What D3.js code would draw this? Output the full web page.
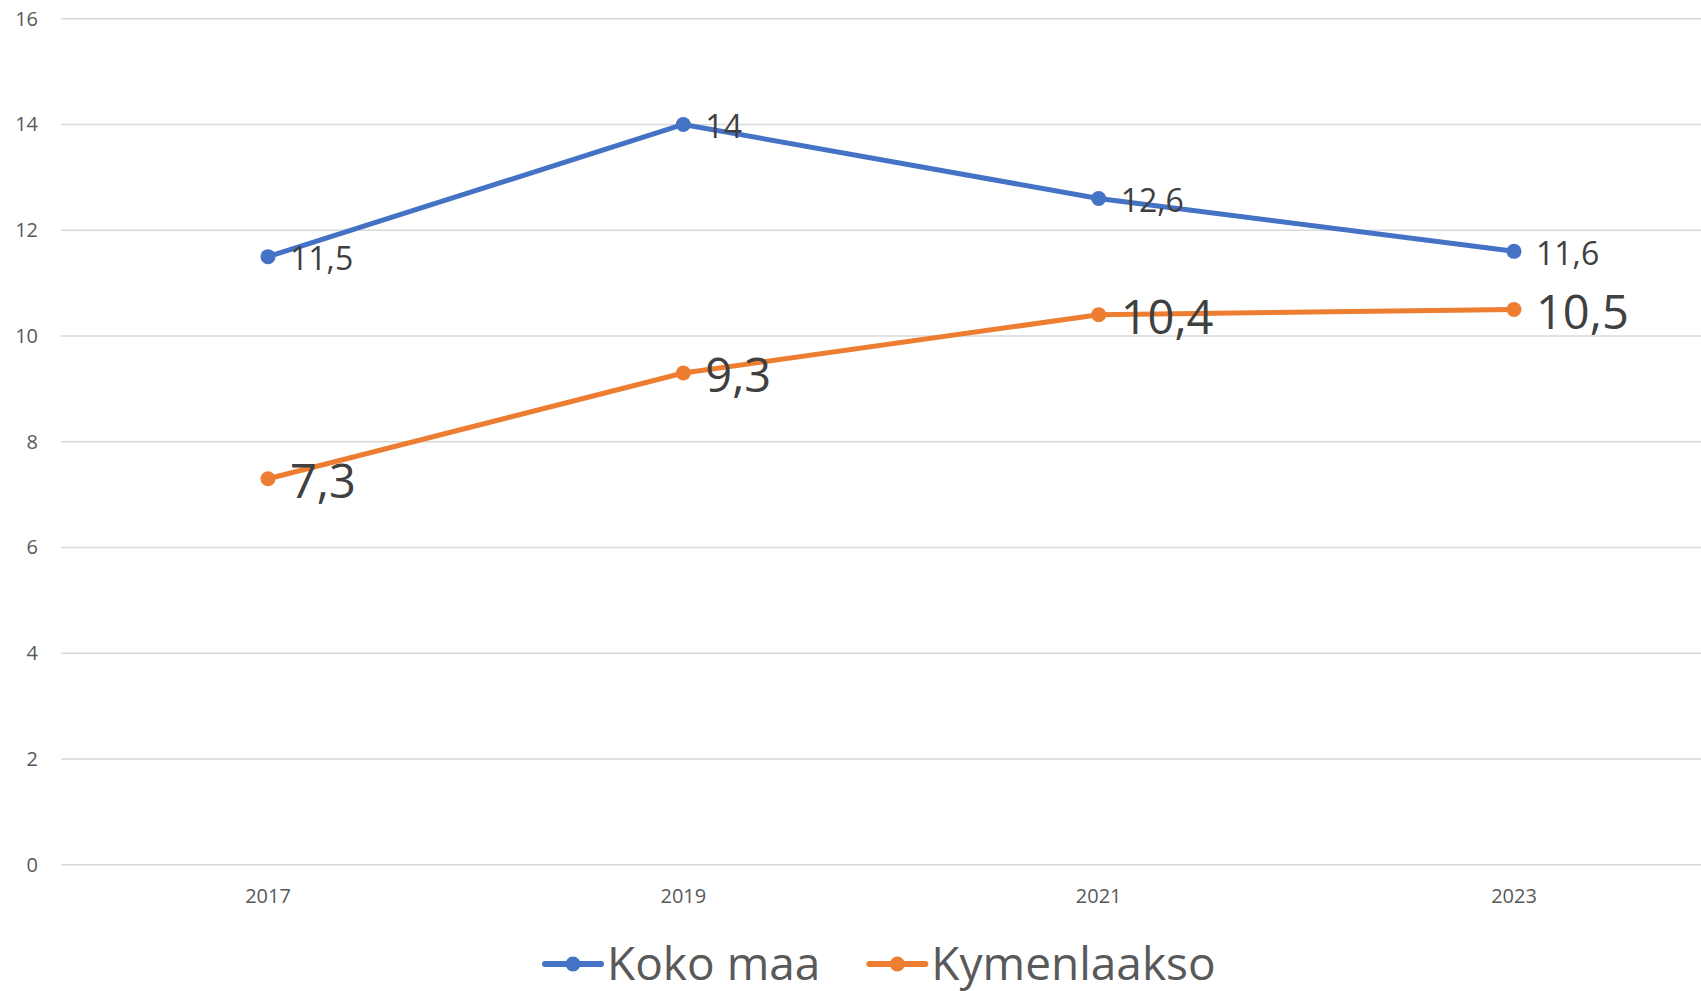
<!DOCTYPE html>
<html>
<head>
<meta charset="utf-8">
<script src="https://cdn.jsdelivr.net/npm/d3@7"></script>
<style>
  body { margin: 0; background: #fff; }
  text { font-family: "Open Sans", sans-serif; }
</style>
</head>
<body>
<div id="chart"></div>
<script>
// data
var years = ["2017", "2019", "2021", "2023"];
var kokoMaa = [11.5, 14, 12.6, 11.6];
var kymenlaakso = [7.3, 9.3, 10.4, 10.5];
var yTicks = [0, 2, 4, 6, 8, 10, 12, 14, 16];
var seriesNames = ["Koko maa", "Kymenlaakso"];

var width = 1701, height = 991;
var margin = {top: 18.7, right: 0, bottom: 126.3, left: 61};

var svg = d3.select("#chart")
  .append("svg")
  .attr("width", width)
  .attr("height", height);

// the plot runs a little past the right edge of the picture
var x = d3.scalePoint()
  .domain(years)
  .range([268, 1514]);

var y = d3.scaleLinear()
  .domain([0, 16])
  .range([height - margin.bottom, margin.top]);

// gridlines
svg.append("g")
  .selectAll("line")
  .data(yTicks)
  .enter()
  .append("line")
  .attr("x1", margin.left)
  .attr("x2", width)
  .attr("y1", function(d) { return y(d); })
  .attr("y2", function(d) { return y(d); })
  .attr("stroke", "#d9d9d9")
  .attr("stroke-width", 1.5);

// y tick labels
svg.append("g")
  .selectAll("text")
  .data(yTicks)
  .enter()
  .append("text")
  .attr("x", 38)
  .attr("y", function(d) { return y(d); })
  .attr("dy", "0.35em")
  .attr("text-anchor", "end")
  .style("font-size", "20px")
  .style("fill", "#595959")
  .text(function(d) { return d; });

// x tick labels
svg.append("g")
  .selectAll("text")
  .data(years)
  .enter()
  .append("text")
  .attr("x", function(d) { return x(d); })
  .attr("y", 903)
  .attr("text-anchor", "middle")
  .style("font-size", "20px")
  .style("fill", "#595959")
  .text(function(d) { return d; });

var series = [
  {name: seriesNames[0], values: kokoMaa, color: "#4472C4", labelSize: 32, labelDy: 13.5},
  {name: seriesNames[1], values: kymenlaakso, color: "#ED7D31", labelSize: 47, labelDy: 19}
];

var line = d3.line()
  .x(function(d, i) { return x(years[i]); })
  .y(function(d) { return y(d); });

var fmt = function(v) { return String(v).replace(".", ","); };

series.forEach(function(s) {
  var g = svg.append("g");

  g.append("path")
    .datum(s.values)
    .attr("d", line)
    .attr("fill", "none")
    .attr("stroke", s.color)
    .attr("stroke-width", 5)
    .attr("stroke-linejoin", "round");

  g.selectAll("circle")
    .data(s.values)
    .enter()
    .append("circle")
    .attr("cx", function(d, i) { return x(years[i]); })
    .attr("cy", function(d) { return y(d); })
    .attr("r", 7.5)
    .attr("fill", s.color);

  g.selectAll("text")
    .data(s.values)
    .enter()
    .append("text")
    .attr("x", function(d, i) { return x(years[i]) + 22; })
    .attr("y", function(d) { return y(d) + s.labelDy; })
    .style("font-size", s.labelSize + "px")
    .style("fill", "#404040")
    .text(fmt);
});

// legend
var legend = svg.append("g");
var lx = 545, legendY = 964;
series.forEach(function(s) {
  var item = legend.append("g").attr("transform", "translate(" + lx + "," + legendY + ")");
  item.append("line")
    .attr("x1", 0).attr("x2", 56)
    .attr("stroke", s.color)
    .attr("stroke-width", 6)
    .attr("stroke-linecap", "round");
  item.append("circle")
    .attr("cx", 28)
    .attr("r", 7.5)
    .attr("fill", s.color);
  var t = item.append("text")
    .attr("x", 62)
    .attr("y", 15.5)
    .style("font-size", "46px")
    .style("fill", "#595959")
    .text(s.name);
  lx += 62 + t.node().getComputedTextLength() + 49;
});
</script>
</body>
</html>
